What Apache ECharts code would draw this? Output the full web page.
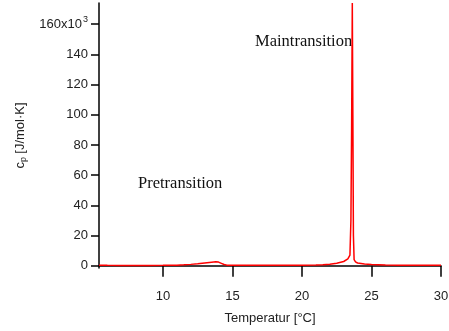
<!DOCTYPE html>
<html>
<head>
<meta charset="utf-8">
<script src="https://cdn.jsdelivr.net/npm/echarts@6/dist/echarts.min.js"></script>
<style>
  html, body { margin: 0; padding: 0; background: #fff; }
  #chart { width: 449px; height: 331px; }
</style>
</head>
<body>
<div id="chart"></div>
<script>
// temperature [°C] and cp [10^3 J/mol·K]
var temps = [5.4, 6, 7, 8, 9, 10, 11, 11.5, 12, 12.5, 13, 13.5, 13.8, 14.0, 14.2, 14.4, 14.6, 15,
             16, 17, 18, 19, 20, 21, 21.5, 22, 22.5, 23, 23.3, 23.45, 23.52, 23.57, 23.62, 23.66,
             23.7, 23.75, 23.85, 24, 24.5, 25, 26, 27, 28, 29, 30];
var cp = [0.3, 0.25, 0.2, 0.2, 0.2, 0.25, 0.4, 0.6, 0.9, 1.3, 1.8, 2.3, 2.6, 2.4, 1.6, 0.8, 0.4, 0.3,
          0.25, 0.25, 0.25, 0.3, 0.35, 0.5, 0.7, 1.0, 1.6, 2.8, 4.5, 7, 30, 90, 174, 100,
          20, 4, 2.6, 1.8, 1.2, 0.8, 0.5, 0.4, 0.35, 0.3, 0.3];
var xTicks = [10, 15, 20, 25, 30];
var yTicks = [0, 20, 40, 60, 80, 100, 120, 140, 160];

var points = temps.map(function (t, i) { return [t, cp[i]]; });

var sans = '"Liberation Sans Narrow", "Liberation Sans", sans-serif';
var chart = echarts.init(document.getElementById('chart'));
chart.setOption({
    animation: false,
    grid: { left: 99, right: 8, top: 3, bottom: 63, containLabel: false, outerBoundsMode: 'none' },
    xAxis: {
        type: 'value',
        min: 5.4,
        max: 30,
        name: 'Temperatur [°C]',
        nameLocation: 'middle',
        nameGap: 44,
        nameTextStyle: { fontFamily: sans, fontSize: 13, color: '#222' },
        axisLine: { show: true, lineStyle: { color: '#000', width: 1.5 } },
        axisTick: { show: true, inside: false, length: 11, customValues: xTicks, lineStyle: { color: '#000', width: 1.5 } },
        axisLabel: { customValues: xTicks, margin: 22, fontFamily: sans, fontSize: 13, color: '#222' },
        splitLine: { show: false }
    },
    yAxis: {
        type: 'value',
        min: -1.5,
        max: 174,
        name: '{c|c}{p|p} {c|[J/mol·K]}',
        nameLocation: 'middle',
        nameRotate: 90,
        nameGap: 70,
        nameTextStyle: {
            rich: {
                c: { fontFamily: sans, fontSize: 13, color: '#222' },
                p: { fontFamily: sans, fontSize: 9, color: '#222', verticalAlign: 'bottom', padding: [7, 0, 0, 0] }
            }
        },
        axisLine: { show: true, lineStyle: { color: '#000', width: 1.5 } },
        axisTick: { show: true, inside: false, length: 8, customValues: yTicks, lineStyle: { color: '#000', width: 1.5 } },
        axisLabel: {
            customValues: yTicks,
            margin: 11,
            fontFamily: sans,
            fontSize: 13,
            color: '#222',
            formatter: function (v) { return v === 160 ? '{n|160x10}{s|3}' : String(v); },
            rich: {
                n: { fontFamily: sans, fontSize: 13, color: '#222' },
                s: { fontFamily: sans, fontSize: 9, color: '#222', verticalAlign: 'top', padding: [0, 0, 9, 1] }
            }
        },
        splitLine: { show: false }
    },
    graphic: [
        { type: 'text', left: 138, top: 175, style: { text: 'Pretransition', font: '16.5px "Liberation Serif"', fill: '#111' } },
        { type: 'text', left: 255, top: 33, style: { text: 'Maintransition', font: '16.5px "Liberation Serif"', fill: '#111' } }
    ],
    series: [{
        type: 'line',
        data: points,
        showSymbol: false,
        lineStyle: { color: '#ff0000', width: 1.5 },
        clip: true
    }]
});
</script>
</body>
</html>
